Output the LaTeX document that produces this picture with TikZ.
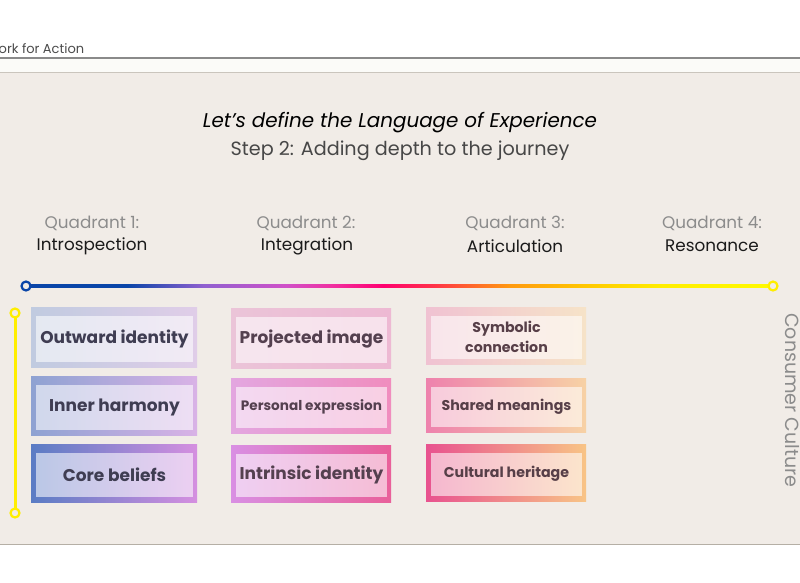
\documentclass[tikz,border=0pt]{standalone}
\usepackage{fontspec}
\setmainfont{Poppins}
\usetikzlibrary{calc}
\definecolor{beige}{HTML}{F1ECE7}
\definecolor{stripc}{HTML}{FBFBF8}
\definecolor{hdrline}{HTML}{8A8A8A}
\definecolor{hdrline2}{HTML}{CAC5BD}
\definecolor{botline}{HTML}{B5AFA5}
\definecolor{qgray}{HTML}{8C8C8C}
\definecolor{qblack}{HTML}{1A1A1A}
\definecolor{lblue}{HTML}{0A45A8}
\definecolor{lyellow}{HTML}{FFEE00}
\definecolor{tc1}{HTML}{3F3D52}
\definecolor{tc2}{HTML}{54404F}
\definecolor{tc3}{HTML}{573F48}
% column 1
\definecolor{a1l}{HTML}{C0CBE0}\definecolor{a1r}{HTML}{E0CDE8}
\definecolor{a2l}{HTML}{8EA2D2}\definecolor{a2r}{HTML}{D9B2E6}
\definecolor{a3l}{HTML}{5A7CC4}\definecolor{a3r}{HTML}{D58FE0}
% column 2
\definecolor{b1l}{HTML}{EBC4D8}\definecolor{b1r}{HTML}{EDB9D3}
\definecolor{b2l}{HTML}{E3A6E0}\definecolor{b2r}{HTML}{F08DBE}
\definecolor{b3l}{HTML}{D98FE3}\definecolor{b3r}{HTML}{E9609A}
% column 3
\definecolor{c1l}{HTML}{F0C2D2}\definecolor{c1r}{HTML}{F6E3C8}
\definecolor{c2l}{HTML}{EE82AD}\definecolor{c2r}{HTML}{F7D2A5}
\definecolor{c3l}{HTML}{E8528F}\definecolor{c3r}{HTML}{F8C486}
\pgfdeclarehorizontalshading{rainbow}{100bp}{%
  color(0bp)=(lblue);
  color(25bp)=(lblue);
  color(31.8bp)=(lblue);
  color(36.9bp)=(rgb,255:red,144;green,96;blue,208);
  color(42.4bp)=(rgb,255:red,208;green,80;blue,200);
  color(45.5bp)=(rgb,255:red,240;green,48;blue,160);
  color(48.9bp)=(rgb,255:red,255;green,0;blue,112);
  color(52.3bp)=(rgb,255:red,255;green,51;blue,72);
  color(57.4bp)=(rgb,255:red,255;green,154;blue,16);
  color(62.5bp)=(rgb,255:red,255;green,200;blue,0);
  color(67.6bp)=(rgb,255:red,255;green,238;blue,0);
  color(75bp)=(rgb,255:red,255;green,250;blue,0);
  color(100bp)=(rgb,255:red,255;green,250;blue,0)}
\tikzset{
  qbox/.style={draw=none, inner sep=0pt},
  qin/.style={fill=white, fill opacity=0.58, text opacity=1, inner sep=0pt,
    font=\bfseries\fontsize{17}{20}\selectfont, align=center},
  qtop/.style={text=qgray, font=\fontsize{16.8}{20}\selectfont, inner sep=0pt},
  qname/.style={text=qblack, font=\fontsize{16.8}{20}\selectfont, inner sep=0pt},
  ring/.style={circle, line width=2.2pt, fill=beige, inner sep=0pt, minimum size=9pt},
}
\begin{document}
\begin{tikzpicture}[x=1pt,y=-1pt]
\useasboundingbox (0,0) rectangle (800,582);
\clip (0,0) rectangle (800,582);
% background bands
\fill[white] (0,0) rectangle (800,582);
\fill[stripc] (0,58) rectangle (800,72);
\fill[beige] (0,72) rectangle (800,544);
\draw[hdrline, line width=1.1pt] (0,58) -- (800,58);
\draw[hdrline2, line width=0.8pt] (0,72) -- (800,72);
\draw[botline, line width=1pt] (0,544) -- (800,544);
% header text
\node[anchor=west, inner sep=0pt, text=black!70, font=\fontsize{13}{15}\selectfont] (hdr) at (-1.5,49) {ork for Action};
% titles
\node[inner sep=0pt, text=black, font=\itshape\fontsize{19.9}{23}\selectfont] (title) at (400,123) {Let’s define the Language of Experience};
\node[inner sep=0pt, text=black!72, font=\fontsize{19.2}{22}\selectfont] (sub) at (400,151) {Step 2: Adding depth to the journey};
% quadrant labels
\node[qtop] (q1) at (92,223) {Quadrant 1:};
\node[qname] (n1) at (92,246) {Introspection};
\node[qtop] (q2) at (306,223) {Quadrant 2:};
\node[qname] (n2) at (307,246) {Integration};
\node[qtop] (q3) at (515,223) {Quadrant 3:};
\node[qname] (n3) at (515,246) {Articulation};
\node[qtop] (q4) at (712,223) {Quadrant 4:};
\node[qname] (n4) at (712,246) {Resonance};
% rainbow axis
\coordinate (L) at (26,286);
\coordinate (R) at (773,286);
\shade[shading=rainbow] ($(L)+(0,-1.6)$) rectangle ($(R)+(0,1.6)$);
\node[ring, draw=lblue] (Lc) at (L) {};
\node[ring, draw=lyellow] (Rc) at (R) {};
% vertical yellow axis
\coordinate (T) at (15,313);
\coordinate (B) at (15,513);
\draw[lyellow, line width=3pt] (T) -- (B);
\node[ring, draw=lyellow] (Tc) at (T) {};
\node[ring, draw=lyellow] (Bc) at (B) {};
% column 1
\node[qbox, minimum width=166pt, minimum height=60pt, left color=a1l, right color=a1r] (o11) at (114,337) {};
\node[qin, text=tc1, minimum width=157pt, minimum height=46pt] (t11) at ($(o11.center)+(0.5,1.5)$) {Outward identity};
\node[qbox, minimum width=166pt, minimum height=59pt, left color=a2l, right color=a2r] (o12) at (114,405.5) {};
\node[qin, text=tc1, minimum width=157pt, minimum height=45pt] (t12) at ($(o12.center)+(0.5,1.5)$) {Inner harmony};
\node[qbox, minimum width=166pt, minimum height=58pt, left color=a3l, right color=a3r] (o13) at (114,473) {};
\node[qin, text=tc1, minimum width=157pt, minimum height=44pt] (t13) at ($(o13.center)+(0.5,1.5)$) {Core beliefs};
% column 2
\node[qbox, minimum width=160pt, minimum height=60pt, left color=b1l, right color=b1r] (o21) at (311,338) {};
\node[qin, text=tc2, minimum width=151pt, minimum height=46pt] (t21) at ($(o21.center)+(0.5,1.5)$) {Projected image};
\node[qbox, minimum width=160pt, minimum height=55pt, left color=b2l, right color=b2r] (o22) at (311,405.5) {};
\node[qin, text=tc2, minimum width=151pt, minimum height=41pt, font=\bfseries\fontsize{13.6}{16}\selectfont] (t22) at ($(o22.center)+(0.5,1.5)$) {Personal expression};
\node[qbox, minimum width=160pt, minimum height=57pt, left color=b3l, right color=b3r] (o23) at (311,473.5) {};
\node[qin, text=tc2, minimum width=151pt, minimum height=43pt] (t23) at ($(o23.center)+(0.5,1.5)$) {Intrinsic identity};
% column 3
\node[qbox, minimum width=160pt, minimum height=57pt, left color=c1l, right color=c1r] (o31) at (506,335.5) {};
\node[qin, text=tc3, minimum width=151pt, minimum height=43pt, font=\bfseries\fontsize{14.2}{20}\selectfont] (t31) at ($(o31.center)+(0.5,1.5)$) {Symbolic\\connection};
\node[qbox, minimum width=160pt, minimum height=54pt, left color=c2l, right color=c2r] (o32) at (506,405) {};
\node[qin, text=tc3, minimum width=151pt, minimum height=40pt, font=\bfseries\fontsize{14.2}{16}\selectfont] (t32) at ($(o32.center)+(0.5,1.5)$) {Shared meanings};
\node[qbox, minimum width=160pt, minimum height=57pt, left color=c3l, right color=c3r] (o33) at (506,472.5) {};
\node[qin, text=tc3, minimum width=151pt, minimum height=43pt, font=\bfseries\fontsize{14.2}{16}\selectfont] (t33) at ($(o33.center)+(0.5,1.5)$) {Cultural heritage};
% side label at the right edge
\node[rotate=-90, anchor=base west, inner sep=0pt, text=qgray, font=\fontsize{19}{23}\selectfont] (side) at (785,313) {Consumer Culture};
\end{tikzpicture}
\end{document}
